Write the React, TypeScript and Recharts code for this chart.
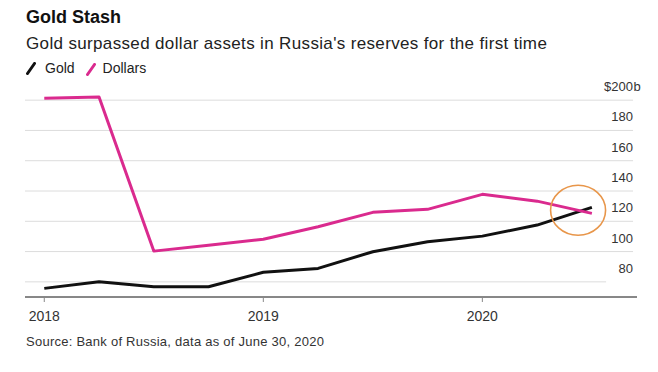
import React from "react";
import { LineChart, Line, XAxis, YAxis, ReferenceLine, ReferenceDot } from "recharts";

// Quarterly observations (decimal year)
const quarters = [2018, 2018.25, 2018.5, 2018.75, 2019, 2019.25, 2019.5, 2019.75, 2020, 2020.25, 2020.5];
// Values in $ billions
const gold = [75.7, 80.1, 76.8, 76.8, 86.3, 88.9, 99.9, 106.5, 110.2, 117.5, 129.2];
const dollars = [201.3, 202.0, 100.3, 104.1, 108.1, 116.4, 125.9, 127.9, 137.8, 133.3, 125.2];
const yearTicks = [2018, 2019, 2020];
const valueTicks = [80, 100, 120, 140, 160, 180, 200];

const data = quarters.map((q, i) => ({ q, gold: gold[i], dollars: dollars[i] }));

const FONT = '"Liberation Sans", Arial, Helvetica, sans-serif';
const PINK = "#DA2A8E";
const GOLDC = "#111111";
const X_MIN = 2017.912;
const X_MAX = 2020.706;

const YTick = (props: any) => {
  const { x, y, payload } = props;
  const v = payload.value;
  const tx = x - 4;
  if (v === 200) {
    return (
      <g>
        <text x={tx} y={y - 9} textAnchor="end" fontSize={13} fill="#333" fontFamily={FONT}>
          $200
        </text>
        <text x={tx + 0.5} y={y - 9} textAnchor="start" fontSize={13} fill="#333" fontFamily={FONT}>
          b
        </text>
      </g>
    );
  }
  return (
    <text x={tx} y={y - 9} textAnchor="end" fontSize={13} fill="#333" fontFamily={FONT}>
      {v}
    </text>
  );
};

const Ellipse = (props: any) => (
  <ellipse cx={props.cx} cy={props.cy} rx={27.5} ry={25} fill="none" stroke="#E8964A" strokeWidth={1.6} />
);

const Slash = ({ color }: { color: string }) => (
  <svg width={10} height={13} style={{ display: "inline-block", verticalAlign: "middle" }}>
    <line x1={1.5} y1={11.5} x2={8.5} y2={1.5} stroke={color} strokeWidth={3} strokeLinecap="round" />
  </svg>
);

export default function App() {
  return (
    <div style={{ position: "absolute", left: 0, top: 0, width: 658, height: 372, background: "#fff", fontFamily: FONT }}>
      <div style={{ position: "absolute", left: 26, top: 7, fontSize: 18, fontWeight: 700, color: "#111", whiteSpace: "nowrap" }}>
        Gold Stash
      </div>
      <div style={{ position: "absolute", left: 26, top: 34, fontSize: 17, letterSpacing: 0.35, color: "#222", whiteSpace: "nowrap" }}>
        Gold surpassed dollar assets in Russia's reserves for the first time
      </div>
      <div style={{ position: "absolute", left: 26, top: 60, fontSize: 14, color: "#222", whiteSpace: "nowrap", display: "flex", alignItems: "center" }}>
        <Slash color={GOLDC} />
        <span style={{ marginLeft: 9 }}>Gold</span>
        <span style={{ marginLeft: 11 }}><Slash color={PINK} /></span>
        <span style={{ marginLeft: 7 }}>Dollars</span>
      </div>
      <div style={{ position: "absolute", left: 26, top: 334, fontSize: 13, letterSpacing: 0.25, color: "#333", whiteSpace: "nowrap" }}>
        Source: Bank of Russia, data as of June 30, 2020
      </div>
      <div style={{ position: "absolute", left: 0, top: 0 }}>
        <LineChart width={658} height={372} data={data} margin={{ top: 85, right: 20, bottom: 0, left: 25 }}>
          {valueTicks.map((v) => (
            <ReferenceLine
              key={v}
              segment={[{ x: X_MIN, y: v }, { x: v === 80 ? 2020.565 : 2020.688, y: v }]}
              stroke="#dcdcdc"
              strokeWidth={1}
              ifOverflow="visible"
            />
          ))}
          <XAxis
            dataKey="q"
            type="number"
            domain={[X_MIN, X_MAX]}
            ticks={yearTicks}
            allowDataOverflow
            axisLine={{ stroke: "#111", strokeWidth: 1 }}
            tickLine={{ stroke: "#888" }}
            tickSize={5}
            tickMargin={9}
            tick={{ fontSize: 14, fill: "#333", fontFamily: FONT }}
            height={75}
          />
          <YAxis
            orientation="right"
            type="number"
            domain={[70, 210]}
            ticks={valueTicks}
            allowDataOverflow
            axisLine={false}
            tickLine={false}
            tickSize={0}
            tickMargin={0}
            tick={<YTick />}
            width={1}
          />
          <Line type="linear" dataKey="gold" stroke={GOLDC} strokeWidth={3} dot={false} isAnimationActive={false} strokeLinejoin="round" />
          <Line type="linear" dataKey="dollars" stroke={PINK} strokeWidth={3} dot={false} isAnimationActive={false} strokeLinejoin="round" />
          <ReferenceDot x={2020.437} y={127.3} shape={<Ellipse />} ifOverflow="visible" />
        </LineChart>
      </div>
    </div>
  );
}
